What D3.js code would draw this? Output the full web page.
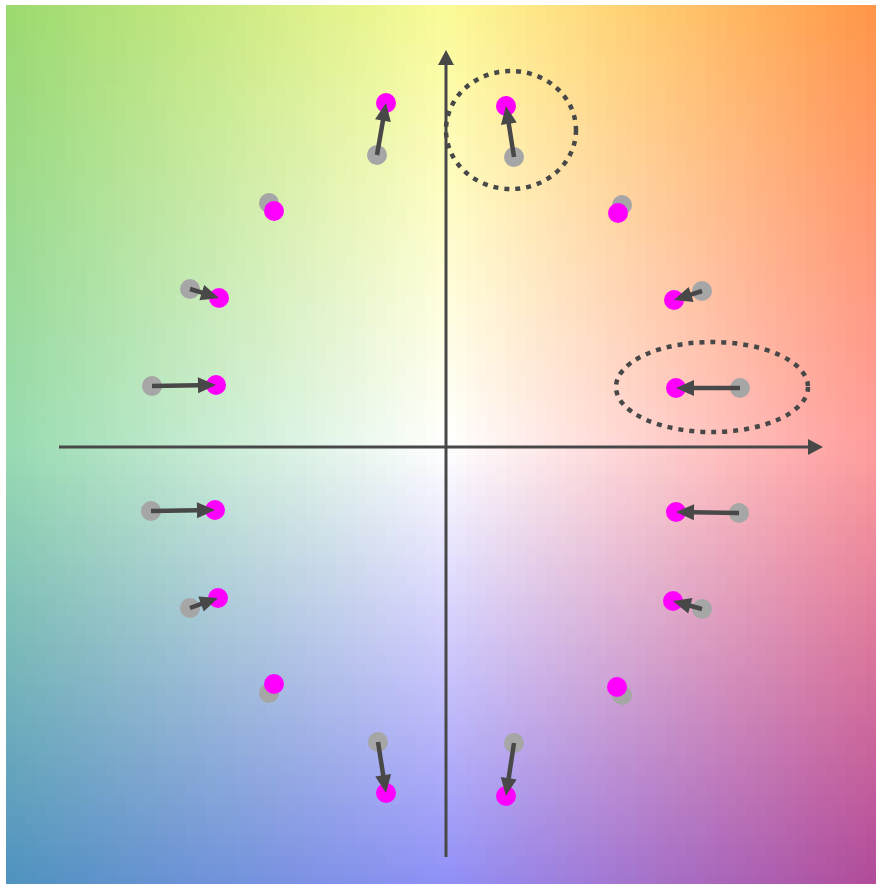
<!DOCTYPE html>
<html>
<head>
<meta charset="utf-8">
<script src="https://cdn.jsdelivr.net/npm/d3@7"></script>
<style>
html,body{margin:0;padding:0;background:#fff;}
svg{display:block;}
</style>
</head>
<body>
<svg id="chart" width="876" height="884"></svg>
<script>
// ---- data (a*, b*-like units) ----
const grayX = [-17.25, 17, -44.25, 44, -64, 64, -73.5, 73.5, -73.75, 73.25, -64, 64, -44.25, 44, -17, 17];
const grayY = [73, 72.5, 61, 60.5, 39.5, 39, 15.25, 14.75, -16, -16.5, -40.25, -40.5, -61.5, -62, -73.75, -74];
const magX = [-15, 15, -43, 43, -56.75, 57, -57.5, 57.5, -57.75, 57.5, -57, 56.75, -43, 42.75, -15, 15];
const magY = [86, 85.25, 59, 58.5, 37.25, 36.75, 15.5, 14.75, -15.75, -16.25, -37.75, -38.5, -59.25, -60, -86.5, -87.25];
// highlighted ellipses: centre x, centre y, radius x, radius y
const ellCX = [16.25, 66.5];
const ellCY = [79.25, 15];
const ellRX = [16.25, 24];
const ellRY = [14.75, 11.25];
// axis extents
const axisX = [-96.75, 94.25];
const axisY = [-102.5, 99.25];
// background colour anchors (3x3: top, middle, bottom rows; left, centre, right)
const bgTop = ["#9bd96f", "#fafb96", "#ff9548"];
const bgMid = ["#97dbb0", "#ffffff", "#ff9c9c"];
const bgBot = ["#4d92bf", "#8f90f7", "#b04a9a"];

const svg = d3.select("#chart");
const x = d3.scaleLinear().domain([-110, 107.5]).range([6, 876]);
const y = d3.scaleLinear().domain([-109.25, 110.5]).range([884, 5]);

// ---- background ----
const grid = [bgTop, bgMid, bgBot];
const cell = 10;
const X0 = 6, X1 = 876, Y0 = 5, Y1 = 884;
const cx0 = x(0), cy0 = y(0);
const cells = [];
for (let py = Y0; py < Y1; py += cell) {
  for (let px = X0; px < X1; px += cell) {
    const w = Math.min(cell, X1 - px), h = Math.min(cell, Y1 - py);
    const mx = px + w / 2, my = py + h / 2;
    let ci, u, rj, v;
    if (mx < cx0) { ci = 0; u = (mx - X0) / (cx0 - X0); } else { ci = 1; u = (mx - cx0) / (X1 - cx0); }
    if (my < cy0) { rj = 0; v = (my - Y0) / (cy0 - Y0); } else { rj = 1; v = (my - cy0) / (Y1 - cy0); }
    const top = d3.interpolateLab(grid[rj][ci], grid[rj][ci + 1])(u);
    const bot = d3.interpolateLab(grid[rj + 1][ci], grid[rj + 1][ci + 1])(u);
    cells.push({px, py, w, h, c: d3.interpolateLab(top, bot)(v)});
  }
}
svg.append("g").selectAll("rect").data(cells).join("rect")
  .attr("x", d => d.px).attr("y", d => d.py)
  .attr("width", d => d.w + 0.5).attr("height", d => d.h + 0.5)
  .attr("fill", d => d.c);

const axisColor = "#484848";

// ---- axes ----
function arrowLine(g, x1, y1, x2, y2, width, headLen, headW, color) {
  const dx = x2 - x1, dy = y2 - y1, L = Math.hypot(dx, dy);
  const ux = dx / L, uy = dy / L;
  const bx = x2 - ux * headLen, by = y2 - uy * headLen;
  g.append("line").attr("x1", x1).attr("y1", y1).attr("x2", bx + ux * 1).attr("y2", by + uy * 1)
    .attr("stroke", color).attr("stroke-width", width);
  g.append("path")
    .attr("d", `M${x2},${y2}L${bx - uy * headW / 2},${by + ux * headW / 2}L${bx + uy * headW / 2},${by - ux * headW / 2}Z`)
    .attr("fill", color);
}
const axG = svg.append("g");
arrowLine(axG, x(axisX[0]), y(0), x(axisX[1]), y(0), 3, 15, 16, axisColor);
arrowLine(axG, x(0), y(axisY[0]), x(0), y(axisY[1]), 3, 15, 16, axisColor);

// ---- points ----
const idx = d3.range(grayX.length);
svg.append("g").selectAll("circle").data(idx).join("circle")
  .attr("cx", i => x(grayX[i])).attr("cy", i => y(grayY[i])).attr("r", 10)
  .attr("fill", "#a6a6a6");
svg.append("g").selectAll("circle").data(idx).join("circle")
  .attr("cx", i => x(magX[i])).attr("cy", i => y(magY[i])).attr("r", 10)
  .attr("fill", "#ff00ff");

// ---- shift arrows ----
const arG = svg.append("g");
idx.forEach(i => {
  const x1 = x(grayX[i]), y1 = y(grayY[i]), x2 = x(magX[i]), y2 = y(magY[i]);
  if (Math.hypot(x2 - x1, y2 - y1) > 20) arrowLine(arG, x1, y1, x2, y2, 4.5, 18, 16, axisColor);
});

// ---- ellipses ----
svg.append("g").selectAll("ellipse").data(d3.range(ellCX.length)).join("ellipse")
  .attr("cx", i => x(ellCX[i])).attr("cy", i => y(ellCY[i]))
  .attr("rx", i => x(ellRX[i]) - x(0)).attr("ry", i => y(0) - y(ellRY[i]))
  .attr("fill", "none").attr("stroke", axisColor).attr("stroke-width", 4.5)
  .attr("stroke-dasharray", "5,6");
</script>
</body>
</html>
